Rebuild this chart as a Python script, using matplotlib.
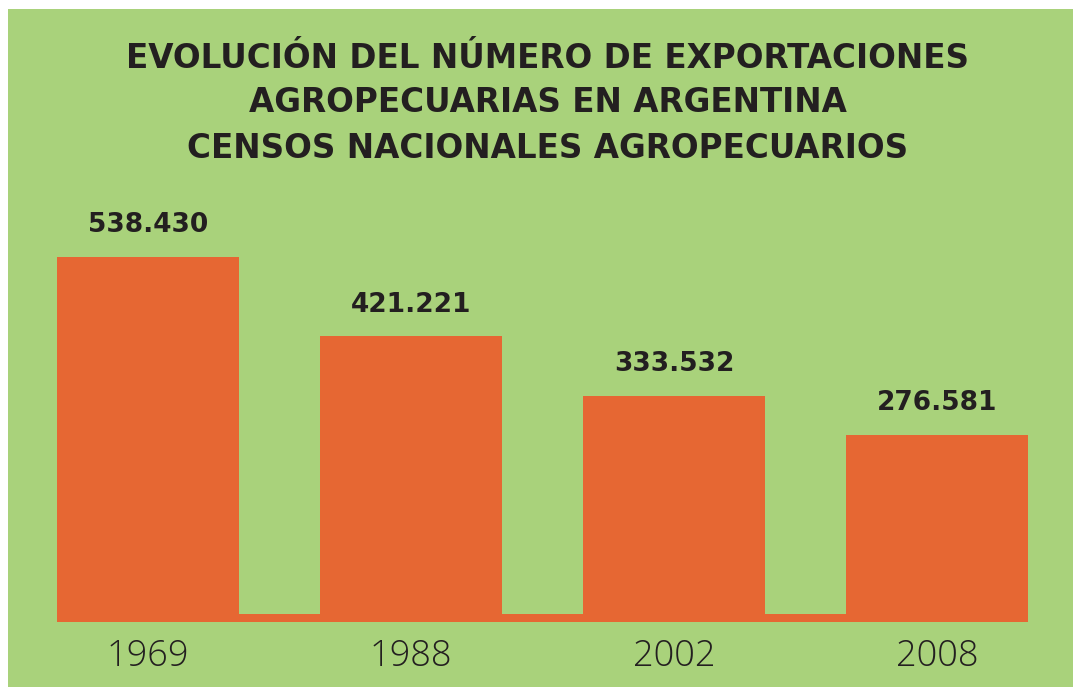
import matplotlib.pyplot as plt
from matplotlib.patches import Rectangle

# data
years = ['1969', '1988', '2002', '2008']
values = [538430, 421221, 333532, 276581]
value_labels = ['538.430', '421.221', '333.532', '276.581']
title_lines = ['EVOLUCIÓN DEL NÚMERO DE EXPORTACIONES',
               'AGROPECUARIAS EN ARGENTINA',
               'CENSOS NACIONALES AGROPECUARIOS']

green = '#a9d27b'
orange = '#e66733'
dark = '#231f20'
bold_font = 'DejaVu Sans'
light_font = 'Open Sans'

W, H = 1073, 687
fig = plt.figure(figsize=(W / 100, H / 100), dpi=100, facecolor='white')

# green panel with thin white margin top/left
fig.patches.append(Rectangle((8 / W, 0), 1, (H - 9) / H, transform=fig.transFigure,
                             facecolor=green, edgecolor='none', zorder=-5))

ax = fig.add_axes([0, 0, 1, 1])
ax.set_facecolor('none')
ax.set_zorder(1)

# pixel mapping: bar centers at 148 + 263*i, base at y=622, tallest bar top at 257
step = 263
k = 365 / values[0]  # px per unit
ax.set_xlim(-148 / step, (W - 148) / step)
ax.set_ylim(-(H - 622) / k, 622 / k)

x = range(len(years))
width = 182 / step
ax.bar(x, values, width=width, color=orange, zorder=2)

# baseline strip joining the bars
ax.fill_between([-width / 2, len(years) - 1 + width / 2], 0, 8 / k, color=orange, lw=0, zorder=2)

for i, (v, lab, yr) in enumerate(zip(values, value_labels, years)):
    ax.annotate(lab, (i, v), xytext=(0, 23), textcoords='offset points',
                ha='center', va='center', fontsize=19, fontweight='bold',
                family=bold_font, color=dark)
    ax.annotate(yr, (i, 0), xytext=(0, -25), textcoords='offset points',
                ha='center', va='center', fontsize=26, fontweight='light',
                family=light_font, color=dark)

for j, line in enumerate(title_lines):
    fig.text(548 / W, 1 - (58 + 45 * j) / H, line, ha='center', va='center',
             fontsize=23.5, fontweight='bold', family=bold_font, color=dark)

ax.axis('off')
fig.savefig('out.png', dpi=100, facecolor='white')
